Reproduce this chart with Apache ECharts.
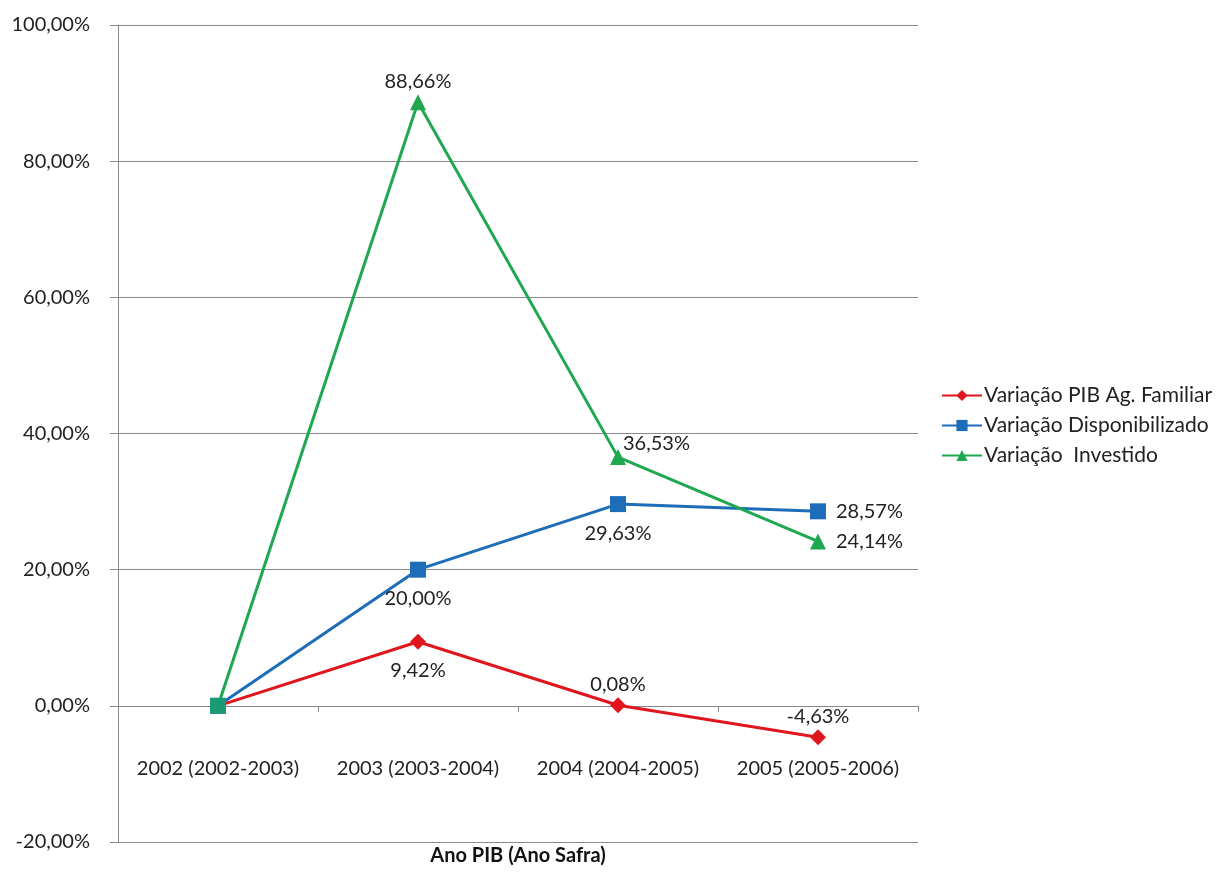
<!DOCTYPE html>
<html>
<head>
<meta charset="utf-8">
<script src="https://cdn.jsdelivr.net/npm/echarts@6/dist/echarts.min.js"></script>
<style>
    html, body { margin: 0; padding: 0; background: #fff; }
    #container { width: 1222px; height: 877px; }
</style>
</head>
<body>
<div id="container"></div>
<script type="text/javascript">
    // dados
    var categorias = ['2002 (2002-2003)', '2003 (2003-2004)', '2004 (2004-2005)', '2005 (2005-2006)'];
    var pibAgFamiliar = [0, 9.42, 0.08, -4.63];
    var disponibilizado = [0, 20.00, 29.63, 28.57];
    var investido = [0, 88.66, 36.53, 24.14];
    var nomes = ['Variação PIB Ag. Familiar', 'Variação Disponibilizado', 'Variação  Investido'];

    // posição dos rótulos por ponto (null = sem rótulo)
    var posPib = [null, 'bottom', 'top', 'top'];
    var posDisp = [null, 'bottom', 'bottom', 'right'];
    var posInv = [null, 'top', 'topRight', 'right'];

    var fonte = 'Lato, "DejaVu Sans", sans-serif';

    function pct(v) {
        return v.toFixed(2).replace('.', ',') + '%';
    }

    function montaDados(valores, posicoes) {
        return valores.map(function (v, i) {
            var item = { value: v };
            var p = posicoes[i];
            if (p === null) {
                item.label = { show: false };
            } else if (p === 'topRight') {
                item.label = { position: [13, -16], align: 'left' };
            } else if (p === 'top') {
                item.label = { position: 'top', distance: 3 };
            } else if (p === 'bottom') {
                item.label = { position: 'bottom', distance: 11 };
            } else {
                item.label = { position: p, distance: 10 };
            }
            return item;
        });
    }

    var dadosInv = montaDados(investido, posInv);
    dadosInv[0].symbol = 'rect';
    dadosInv[0].symbolSize = 16;
    dadosInv[0].itemStyle = { color: '#1a9a72' };

    var rotulo = {
        show: true,
        color: '#222',
        fontFamily: fonte,
        fontSize: 20,
        formatter: function (p) { return pct(p.value); }
    };

    var myChart = echarts.init(document.getElementById('container'));

    var option = {
        backgroundColor: '#fff',
        animation: false,
        title: {
            text: 'Ano PIB (Ano Safra)',
            left: 518,
            top: 846,
            textAlign: 'center',
            padding: 0,
            textStyle: { fontFamily: fonte, fontSize: 20, fontWeight: 'bold', color: '#111' }
        },
        grid: { left: 118, right: 304, top: 25, bottom: 35, outerBoundsMode: 'none' },
        legend: {
            orient: 'vertical',
            left: 936,
            top: 380,
            itemGap: 9,
            itemWidth: 40,
            itemHeight: 14,
            textStyle: { fontFamily: fonte, fontSize: 21, color: '#222', padding: [0, 0, 0, -3] },
            data: nomes
        },
        xAxis: {
            type: 'category',
            data: categorias,
            boundaryGap: true,
            axisLine: { onZero: true, lineStyle: { color: '#888', width: 1 } },
            axisTick: { show: true, interval: 0, alignWithLabel: false, length: 6, lineStyle: { color: '#888' } },
            axisLabel: { show: true, interval: 0, margin: -83, fontFamily: fonte, fontSize: 20, color: '#222' },
            splitLine: { show: false }
        },
        yAxis: {
            type: 'value',
            min: -20,
            max: 100,
            interval: 20,
            axisLine: { show: true, lineStyle: { color: '#888', width: 1 } },
            axisTick: { show: true, length: 8, lineStyle: { color: '#888' } },
            axisLabel: {
                margin: 28,
                fontFamily: fonte,
                fontSize: 20,
                color: '#222',
                formatter: function (v) { return pct(v); }
            },
            splitLine: { show: true, lineStyle: { color: '#8a8a8a', width: 1 } }
        },
        series: [
            {
                name: nomes[0],
                type: 'line',
                data: montaDados(pibAgFamiliar, posPib),
                symbol: 'diamond',
                symbolSize: 16,
                color: '#e0161e',
                lineStyle: { width: 3 },
                label: rotulo,
                z: 3
            },
            {
                name: nomes[1],
                type: 'line',
                data: montaDados(disponibilizado, posDisp),
                symbol: 'rect',
                symbolSize: 16,
                color: '#1d6db8',
                lineStyle: { width: 3 },
                label: rotulo,
                z: 4
            },
            {
                name: nomes[2],
                type: 'line',
                data: dadosInv,
                symbol: 'triangle',
                symbolSize: 16,
                color: '#1fa84f',
                lineStyle: { width: 3 },
                label: rotulo,
                z: 5
            }
        ]
    };

    if (option && typeof option === 'object') {
        myChart.setOption(option);
    }
</script>
</body>
</html>
